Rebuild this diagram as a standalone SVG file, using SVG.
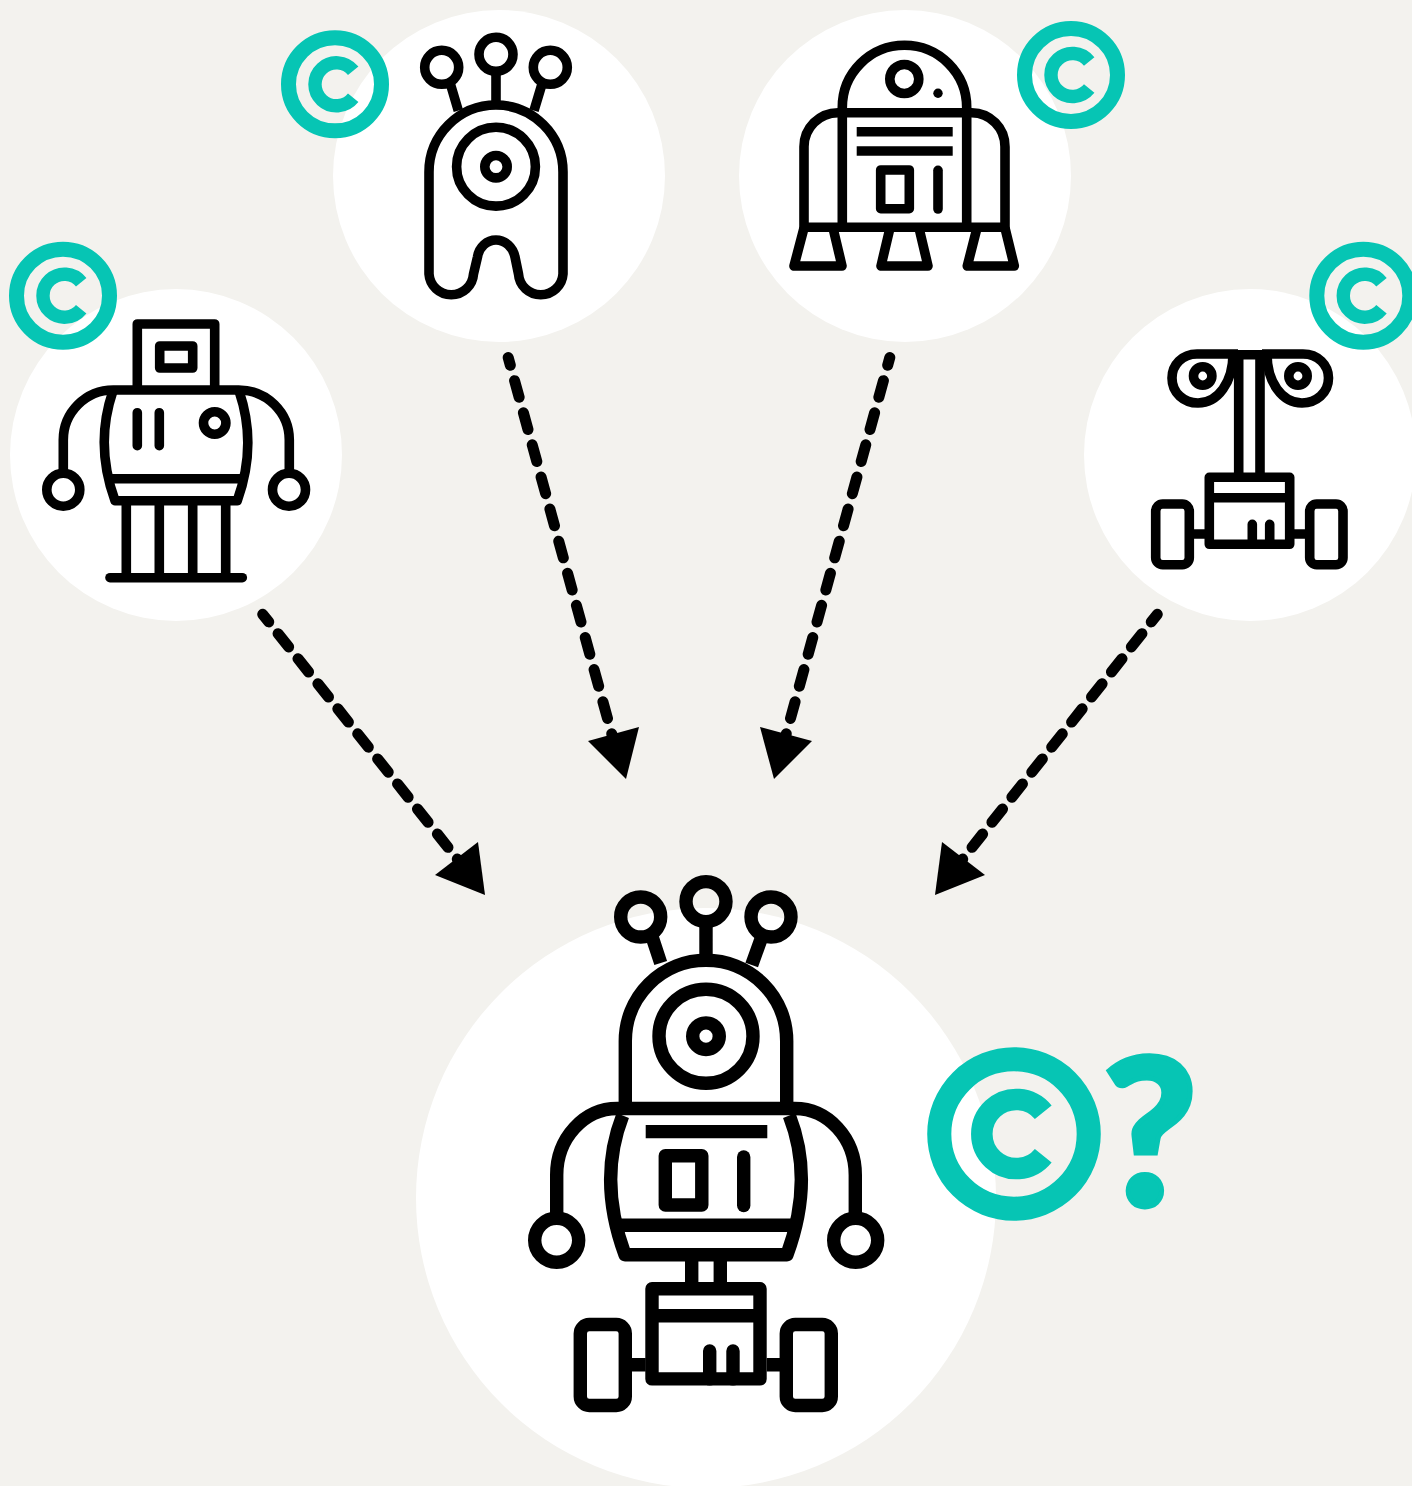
<svg xmlns="http://www.w3.org/2000/svg" width="1412" height="1486" viewBox="0 0 1412 1486">
<style>
.disc{fill:#fff}
.i{fill:none;stroke:#000;stroke-linejoin:round;stroke-linecap:butt}
.r{stroke-linecap:round}
.s{stroke-width:9.600}
.b{stroke-width:13.400}
.dash{fill:none;stroke:#000;stroke-width:11;stroke-linecap:round}
.d1{stroke-dasharray:17 15;stroke-dashoffset:7.3}
.d2{stroke-dasharray:17.3 16;stroke-dashoffset:9.3}
.head{fill:#000}
.ring{fill:none;stroke:#06c5b4;stroke-width:15}
.cc{fill:none;stroke:#06c5b4;stroke-width:13.400}
.q{fill:#06c5b4;stroke:#06c5b4;stroke-width:5;stroke-linejoin:miter;font-family:"Lato","Liberation Sans",sans-serif;font-weight:900;font-size:205px}
</style>
<defs>
<g id="copyright">
<circle class="ring" r="46.500"/>
<path class="cc" transform="translate(1.4 0)" d="M16.8 -13.5A21.5 21.5 0 1 0 16.8 13.5"/>
</g>
</defs>
<rect width="1412" height="1486" fill="#f3f2ee"/>
<g id="robot-left">
<circle class="disc" cx="176" cy="455" r="166"/>
<g class="i s">
<path d="M137.3 390V324H214.7V390"/>
<rect x="159.7" y="346" width="33" height="22"/>
<path d="M63.3 473V440A50 50 0 0 1 113.3 390H238.7A50.6 50 0 0 1 289.3 440V473"/>
<circle cx="63.3" cy="489.7" r="16.5"/><circle cx="289" cy="489.7" r="16.5"/>
<path d="M112.7 391.7Q94.7 445 115 500.7H237.3Q257.3 445 239.3 391.7"/>
<path d="M108.500 478.7H243.500"/>
<path class="r" d="M137.3 412.7V445.7M159.3 412.7V445.7"/>
<circle cx="214.7" cy="423" r="11.2"/>
<path d="M126.3 500.7V577.7M159.3 500.7V577.7M192.7 500.7V577.7M225.7 500.7V577.7"/>
<path class="r" d="M110 577.7H242.3"/>
</g>
</g>
<g id="robot-alien">
<circle class="disc" cx="499" cy="176" r="166"/>
<g class="i s">
<circle cx="496" cy="54.3" r="17"/><circle cx="441.7" cy="67.3" r="17"/><circle cx="550.3" cy="67.3" r="17"/>
<path d="M450.7 85L458.3 110.7M541.7 85L534 110.7M496 71V101.7"/>
<path d="M473.500 274A22.300 22.300 0 0 1 429 274V172A67 67 0 0 1 563 172V274A22.300 22.300 0 0 1 518.500 274L515 257C513 247 505 240 496 240C487 240 479 247 477.500 257Z"/>
<circle cx="496" cy="166.7" r="39.4"/>
<circle cx="496" cy="166.7" r="11.2"/>
</g>
</g>
<g id="robot-r2">
<circle class="disc" cx="905" cy="176" r="166"/>
<g class="i s">
<path d="M842.3 227V107.5A62.2 62.2 0 0 1 966.7 107.5V227"/>
<path d="M804 227.3V146.7A34 34 0 0 1 838 112.7H971.7A33.3 34 0 0 1 1005 146.7V227.3Z"/>
<circle cx="904.3" cy="79" r="14.5"/>
<path d="M856.7 131.7H952.7M856.7 151H952.7"/>
<rect x="880.7" y="170" width="28.6" height="38.7"/>
<path class="r" d="M938 170.3V209"/>
<path d="M804 228L794 266H842L833 228M890 228L881 266H928L919 228M977 228L967.3 266H1014.3L1005 228"/>
</g>
<circle cx="938" cy="93.3" r="4.7"/>
</g>
<g id="robot-walle">
<circle class="disc" cx="1250" cy="455" r="166"/>
<g class="i s">
<path d="M1238.7 354V473M1260 354V473M1232 354.7H1267"/>
<path d="M1238 354H1197C1182 354 1172 365 1172 378C1172 393 1184 403 1198 403C1218 403 1233 382 1233 354"/>
<path d="M1262 354H1303C1318 354 1328.500 365 1328.500 378C1328.500 393 1316 403 1302 403C1282 403 1267 382 1267 354"/>
<circle cx="1202.700" cy="376" r="9.200"/><circle cx="1298" cy="376" r="9.200"/>
<rect x="1209.300" y="477.300" width="80.400" height="67"/>
<path d="M1209.300 497.700H1289.700"/>
<path class="r" d="M1252.300 524.300V544M1269.700 524.300V544"/>
<path d="M1193 534H1205M1294 534H1306"/>
<rect x="1155.700" y="504" width="33.600" height="60.700" rx="7"/>
<rect x="1309.700" y="504" width="33.300" height="60.700" rx="7"/>
</g>
</g>
<g id="robot-main">
<circle class="disc" cx="706" cy="1198" r="290"/>
<g class="i b">
<circle cx="706" cy="901.600" r="20"/><circle cx="640.700" cy="917" r="20"/><circle cx="771" cy="917" r="20"/>
<path d="M652 936.600L660.700 963M760.700 940L751.700 965M706 925V954"/>
<path d="M625.300 1108.500V1041A80.700 80.700 0 0 1 786.700 1041V1108.500"/>
<circle cx="706" cy="1036.200" r="47"/>
<circle cx="706" cy="1036.200" r="13.300"/>
<path d="M556.700 1218V1175A60.600 66.500 0 0 1 617.300 1108.500H794.700A60.600 66.500 0 0 1 855.300 1175V1218"/>
<circle cx="556.700" cy="1240.300" r="22"/><circle cx="855.700" cy="1240.300" r="22"/>
<path d="M622.700 1115.500Q597.500 1180 625 1254.700H787Q814.500 1180 789.300 1115.500"/>
<path d="M616 1225.300H796"/>
<path d="M645.700 1131.600H767.300"/>
<rect x="665.300" y="1155.800" width="36.500" height="49.200"/>
<path class="r" d="M743.700 1157V1205.600"/>
<path d="M691.700 1254.700V1283.800M720.300 1254.700V1283.800"/>
<rect x="652" y="1288.700" width="108" height="90.200"/>
<path d="M652 1315.700H760"/>
<path class="r" d="M709.700 1351V1378.900M733 1351V1378.900"/>
<path d="M631.700 1364.800H645.700M766.700 1364.800H780"/>
<rect x="580.300" y="1324.500" width="45" height="81" rx="9"/>
<rect x="786.300" y="1324.500" width="45" height="81" rx="9"/>
</g>
</g>
<g id="connectors">
<path class="dash d1" d="M262.700 614.300L462 865"/>
<path class="head" d="M485 895L478 842L435 875Z"/>
<path class="dash d2" d="M508.200 357.500L614 742"/>
<path class="head" d="M626 779L588 741L639 727Z"/>
<path class="dash d2" d="M889.800 357.500L784 742"/>
<path class="head" d="M774 779L760 727L812 741Z"/>
<path class="dash d1" d="M1157.300 614.300L958 865"/>
<path class="head" d="M935 895L942 842L985 875Z"/>
</g>
<g id="copyright-marks">
<use href="#copyright" x="335" y="84.300"/>
<use href="#copyright" x="1071" y="75"/>
<use href="#copyright" x="63" y="295.700"/>
<use href="#copyright" x="1363.300" y="295.700"/>
<use href="#copyright" transform="translate(1014 1134) scale(1.607)"/>
<text class="q" x="1150" y="1206" text-anchor="middle">?</text>
</g>
</svg>
